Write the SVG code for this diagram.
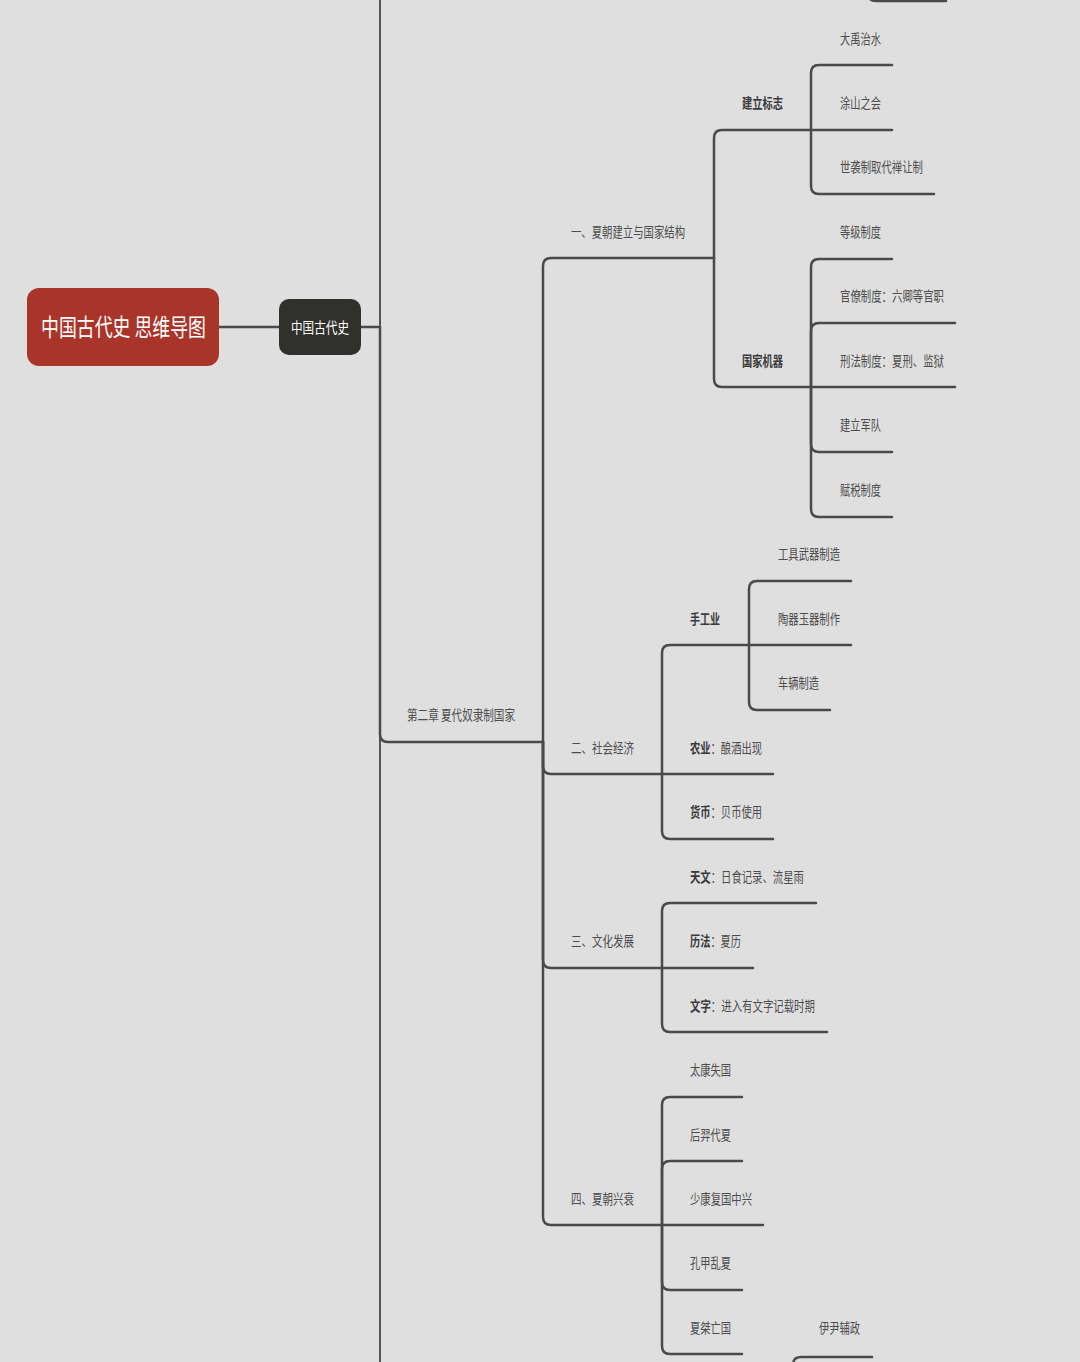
<svg xmlns="http://www.w3.org/2000/svg" width="1080" height="1362" viewBox="0 0 1080 1362">
<defs>
<style>
.bg{fill:#dfdfdf}
.ln{fill:none;stroke:#4a4a4a;stroke-width:2.5;stroke-linecap:round;stroke-linejoin:round}
.ln2{fill:none;stroke:#555555;stroke-width:2}
.t{font-family:"Noto Sans CJK SC","Noto Sans",sans-serif;font-size:13.5px;fill:#4d4d4d}
.b{font-weight:bold;fill:#3a3a3a}
.root{fill:#a9352a}
.sub{fill:#30302c}
.rt{font-family:"Noto Sans CJK SC","Noto Sans",sans-serif;font-size:24px;fill:#ffffff}
.st{font-family:"Noto Sans CJK SC","Noto Sans",sans-serif;font-size:15px;fill:#ffffff}
</style>
</defs>
<rect class="bg" x="0" y="0" width="1080" height="1362"/>
<g id="connectors">
<path class="ln" d="M219 327 L279 327"/>
<path class="ln" d="M361 327 L380 327"/>
<path class="ln2" d="M380 -5 L380 1367"/>
<path class="ln" d="M380 327 L380 734 Q380 742 388 742 L543 742"/>
<path class="ln" d="M868 -20 L868 -7 Q868 1 876 1 L946 1"/>
<path class="ln" d="M793 1375 L793 1365 Q793 1357 801 1357 L872 1357"/>
<path class="ln" d="M543 742 L543 266 Q543 258 551 258 L714 258"/>
<path class="ln" d="M543 742 L543 766 Q543 774 551 774 L662 774"/>
<path class="ln" d="M543 742 L543 960 Q543 968 551 968 L662 968"/>
<path class="ln" d="M543 742 L543 1217 Q543 1225 551 1225 L662 1225"/>
<path class="ln" d="M714 258 L714 138 Q714 130 722 130 L811 130"/>
<path class="ln" d="M714 258 L714 379 Q714 387 722 387 L811 387"/>
<path class="ln" d="M811 130 L811 73 Q811 65 819 65 L892 65"/>
<path class="ln" d="M811 130 L892 130"/>
<path class="ln" d="M811 130 L811 186 Q811 194 819 194 L934 194"/>
<path class="ln" d="M811 387 L811 267 Q811 259 819 259 L892 259"/>
<path class="ln" d="M811 387 L811 331 Q811 323 819 323 L955 323"/>
<path class="ln" d="M811 387 L955 387"/>
<path class="ln" d="M811 387 L811 444 Q811 452 819 452 L892 452"/>
<path class="ln" d="M811 387 L811 509 Q811 517 819 517 L892 517"/>
<path class="ln" d="M662 774 L662 653 Q662 645 670 645 L749 645"/>
<path class="ln" d="M662 774 L773 774"/>
<path class="ln" d="M662 774 L662 831 Q662 839 670 839 L773 839"/>
<path class="ln" d="M749 645 L749 589 Q749 581 757 581 L851 581"/>
<path class="ln" d="M749 645 L851 645"/>
<path class="ln" d="M749 645 L749 702 Q749 710 757 710 L830 710"/>
<path class="ln" d="M662 968 L662 911 Q662 903 670 903 L816 903"/>
<path class="ln" d="M662 968 L753 968"/>
<path class="ln" d="M662 968 L662 1024 Q662 1032 670 1032 L827 1032"/>
<path class="ln" d="M662 1225 L662 1105 Q662 1097 670 1097 L742 1097"/>
<path class="ln" d="M662 1225 L662 1169 Q662 1161 670 1161 L742 1161"/>
<path class="ln" d="M662 1225 L763 1225"/>
<path class="ln" d="M662 1225 L662 1282 Q662 1290 670 1290 L742 1290"/>
<path class="ln" d="M662 1225 L662 1346 Q662 1354 670 1354 L742 1354"/>
</g>
<g id="n-root"><rect class="root" x="27" y="288" width="192" height="78" rx="12"/><text class="rt" x="41" y="336" textLength="165" lengthAdjust="spacingAndGlyphs">中国古代史 思维导图</text></g>
<g id="n-main"><rect class="sub" x="279" y="299" width="82" height="56" rx="10"/><text class="st" x="291" y="332.5" textLength="58" lengthAdjust="spacingAndGlyphs">中国古代史</text></g>
<g id="n-ch2"><text class="t" x="407" y="720" textLength="108" lengthAdjust="spacingAndGlyphs">第二章 夏代奴隶制国家</text></g>
<g id="n-s1"><text class="t" x="571" y="237" textLength="114" lengthAdjust="spacingAndGlyphs">一、夏朝建立与国家结构</text></g>
<g id="n-s1a"><text class="t b" x="742" y="108" textLength="41" lengthAdjust="spacingAndGlyphs">建立标志</text></g>
<g id="n-s1a1"><text class="t" x="840" y="44" textLength="41" lengthAdjust="spacingAndGlyphs">大禹治水</text></g>
<g id="n-s1a2"><text class="t" x="840" y="108" textLength="41" lengthAdjust="spacingAndGlyphs">涂山之会</text></g>
<g id="n-s1a3"><text class="t" x="840" y="172" textLength="83" lengthAdjust="spacingAndGlyphs">世袭制取代禅让制</text></g>
<g id="n-s1b"><text class="t b" x="742" y="366" textLength="41" lengthAdjust="spacingAndGlyphs">国家机器</text></g>
<g id="n-s1b1"><text class="t" x="840" y="237" textLength="41" lengthAdjust="spacingAndGlyphs">等级制度</text></g>
<g id="n-s1b2"><text class="t" x="840" y="301" textLength="104" lengthAdjust="spacingAndGlyphs">官僚制度：六卿等官职</text></g>
<g id="n-s1b3"><text class="t" x="840" y="366" textLength="104" lengthAdjust="spacingAndGlyphs">刑法制度：夏刑、监狱</text></g>
<g id="n-s1b4"><text class="t" x="840" y="430" textLength="41" lengthAdjust="spacingAndGlyphs">建立军队</text></g>
<g id="n-s1b5"><text class="t" x="840" y="495" textLength="41" lengthAdjust="spacingAndGlyphs">赋税制度</text></g>
<g id="n-s2"><text class="t" x="571" y="753" textLength="63" lengthAdjust="spacingAndGlyphs">二、社会经济</text></g>
<g id="n-s2a"><text class="t b" x="690" y="624" textLength="30" lengthAdjust="spacingAndGlyphs">手工业</text></g>
<g id="n-s2a1"><text class="t" x="778" y="559" textLength="62" lengthAdjust="spacingAndGlyphs">工具武器制造</text></g>
<g id="n-s2a2"><text class="t" x="778" y="624" textLength="62" lengthAdjust="spacingAndGlyphs">陶器玉器制作</text></g>
<g id="n-s2a3"><text class="t" x="778" y="688" textLength="41" lengthAdjust="spacingAndGlyphs">车辆制造</text></g>
<g id="n-s2b"><text class="t" transform="translate(690 753) scale(0.762 1)"><tspan class="b">农业</tspan>：酿酒出现</text></g>
<g id="n-s2c"><text class="t" transform="translate(690 817) scale(0.762 1)"><tspan class="b">货币</tspan>：贝币使用</text></g>
<g id="n-s3"><text class="t" x="571" y="946" textLength="63" lengthAdjust="spacingAndGlyphs">三、文化发展</text></g>
<g id="n-s3a"><text class="t" transform="translate(690 882) scale(0.768 1)"><tspan class="b">天文</tspan>：日食记录、流星雨</text></g>
<g id="n-s3b"><text class="t" transform="translate(690 946) scale(0.756 1)"><tspan class="b">历法</tspan>：夏历</text></g>
<g id="n-s3c"><text class="t" transform="translate(690 1011) scale(0.772 1)"><tspan class="b">文字</tspan>：进入有文字记载时期</text></g>
<g id="n-s4"><text class="t" x="571" y="1204" textLength="63" lengthAdjust="spacingAndGlyphs">四、夏朝兴衰</text></g>
<g id="n-s4a"><text class="t" x="690" y="1075" textLength="41" lengthAdjust="spacingAndGlyphs">太康失国</text></g>
<g id="n-s4b"><text class="t" x="690" y="1140" textLength="41" lengthAdjust="spacingAndGlyphs">后羿代夏</text></g>
<g id="n-s4c"><text class="t" x="690" y="1204" textLength="62" lengthAdjust="spacingAndGlyphs">少康复国中兴</text></g>
<g id="n-s4d"><text class="t" x="690" y="1268" textLength="41" lengthAdjust="spacingAndGlyphs">孔甲乱夏</text></g>
<g id="n-s4e"><text class="t" x="690" y="1333" textLength="41" lengthAdjust="spacingAndGlyphs">夏桀亡国</text></g>
<g id="n-x1"><text class="t" x="819" y="1333" textLength="41" lengthAdjust="spacingAndGlyphs">伊尹辅政</text></g>
</svg>
